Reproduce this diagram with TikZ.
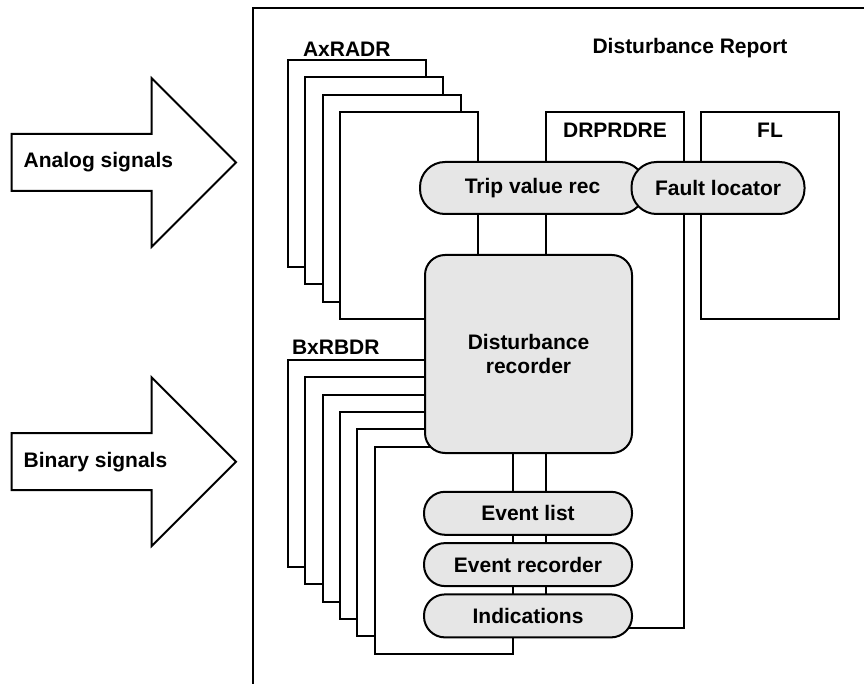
\documentclass[tikz,border=0pt]{standalone}
\usepackage{fontspec}
\setmainfont{Liberation Sans}
\usetikzlibrary{positioning}
\definecolor{recfill}{HTML}{E6E6E6}

\begin{document}
\begin{tikzpicture}[
    x=1pt, y=-1pt,
    font=\fontsize{21}{24}\selectfont\bfseries,
    line width=2pt,
    sheet/.style={draw, fill=white, minimum width=138pt, minimum height=207pt, anchor=north west, inner sep=0pt},
    rec/.style={draw, fill=recfill, rounded corners=20pt, minimum width=207pt, minimum height=198pt, align=center},
    pill/.style={draw, fill=recfill, rounded corners=21pt, minimum width=208pt, minimum height=43pt, inner sep=0pt},
    bigpill/.style={pill, rounded corners=25pt, minimum height=52pt},
    lbl/.style={inner sep=0pt, anchor=base west},
    sig/.style={draw, fill=white, line join=miter},
]
\useasboundingbox (0,0) rectangle (864,684);
\clip (0,0) rectangle (864,684);

% Report frame
\node[draw, anchor=north west, minimum width=700pt, minimum height=720pt] (report) at (252,7) {};
\node (title) at (690,48) {Disturbance Report};

% Input signals
\foreach \name/\yc/\txt in {analog/162.5/Analog signals, binary/461.7/Binary signals} {
  \draw[sig] (11.7,\yc-28.5) -- (151.7,\yc-28.5) -- (151.7,\yc-84.3) -- (236,\yc)
    -- (151.7,\yc+84.3) -- (151.7,\yc+28.5) -- (11.7,\yc+28.5) -- cycle;
  \node[inner sep=0pt, anchor=west] (\name) at (22.7,\yc) {\txt};
}

% Analog channels
\foreach \i in {0,...,3}
  \node[sheet] (ar\i) at (287+17.3*\i, 59+17.3*\i) {};
\node[lbl] (arlbl) at ([xshift=15pt, yshift=2pt]ar0.north west) {AxRADR};

% Binary channels
\foreach \i in {0,...,5}
  \node[sheet] (br\i) at (287+17.3*\i, 359+17.3*\i) {};
\node[lbl] (brlbl) at ([xshift=4pt, yshift=5pt]br0.north west) {BxRBDR};

% DRPRDRE and FL
\node[sheet, minimum height=516pt] (drp) at (545,111) {};
\node (drplbl) at ([yshift=-19pt]drp.north) {DRPRDRE};
\node[sheet] (fl) at (700,111) {};
\node (fllbl) at ([yshift=-19pt]fl.north) {FL};

% Recorder
\node[rec] (dr) at (528.5,354) {Disturbance\\recorder};

% Functions
\node[bigpill, minimum width=225pt] (trip) at (532.5,188) {Trip value rec};
\node[bigpill, minimum width=173pt] (fault) at (718,188) {Fault locator};
\node[pill] (evl) at (528,513.3) {Event list};
\node[pill, below=6.3pt of evl] (evr) {Event recorder};
\node[pill, below=6.3pt of evr] (ind) {Indications};
\end{tikzpicture}
\end{document}
